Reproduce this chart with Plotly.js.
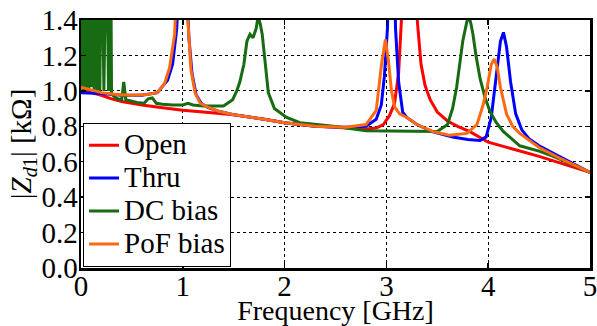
<!DOCTYPE html>
<html>
<head>
<meta charset="utf-8">
<script src="https://cdn.plot.ly/plotly-3.0.1.min.js"></script>
<style>html,body{margin:0;padding:0;background:#fff;}#chart{width:597px;height:326px;}</style>
</head>
<body>
<div id="chart"></div>
<script>
// Open
const openF = [0, 0.1, 0.2, 0.3, 0.4, 0.5, 0.6, 0.8, 1.0, 1.2, 1.5, 1.8, 2.0, 2.3, 2.6, 2.8, 2.9, 2.97, 3.03, 3.08, 3.12, 3.16, 3.2, 3.23, 3.26, 3.3, 3.34, 3.38, 3.43, 3.5, 3.6, 3.7, 3.82, 4.0, 4.25, 4.5, 4.75, 5.0];
const openZ = [1.00, 0.99, 0.975, 0.955, 0.94, 0.93, 0.92, 0.905, 0.89, 0.88, 0.865, 0.84, 0.82, 0.80, 0.79, 0.785, 0.79, 0.81, 0.86, 0.93, 1.1, 1.4, 1.9, 2.3, 1.9, 1.42, 1.15, 1.03, 0.95, 0.88, 0.83, 0.80, 0.77, 0.71, 0.67, 0.63, 0.585, 0.54];
// Thru
const thruF = [0, 0.2, 0.4, 0.6, 0.75, 0.85, 0.9, 0.94, 0.97, 1.0, 1.03, 1.06, 1.09, 1.13, 1.18, 1.25, 1.35, 1.5, 1.8, 2.0, 2.3, 2.6, 2.8, 2.9, 2.95, 2.98, 3.01, 3.05, 3.09, 3.12, 3.16, 3.2, 3.3, 3.45, 3.65, 3.8, 3.92, 3.98, 4.03, 4.08, 4.12, 4.15, 4.18, 4.22, 4.27, 4.33, 4.4, 4.5, 4.7, 5.0];
const thruZ = [0.99, 0.985, 0.975, 0.975, 0.99, 1.06, 1.15, 1.35, 1.7, 2.3, 1.7, 1.3, 1.1, 0.98, 0.93, 0.905, 0.885, 0.865, 0.84, 0.82, 0.80, 0.795, 0.80, 0.84, 0.92, 1.08, 1.35, 2.3, 1.35, 1.05, 0.88, 0.85, 0.81, 0.77, 0.74, 0.725, 0.72, 0.74, 0.85, 1.1, 1.28, 1.33, 1.25, 1.05, 0.87, 0.78, 0.73, 0.69, 0.63, 0.54];
// DC bias
const dcF = [0, 0.01, 0.02, 0.03, 0.045, 0.06, 0.075, 0.09, 0.1, 0.11, 0.13, 0.15, 0.16, 0.17, 0.185, 0.2, 0.225, 0.25, 0.27, 0.29, 0.3, 0.32, 0.36, 0.4, 0.42, 0.44, 0.48, 0.55, 0.62, 0.66, 0.7, 0.74, 0.8, 0.9, 1.0, 1.05, 1.1, 1.2, 1.3, 1.4, 1.49, 1.53, 1.56, 1.6, 1.63, 1.66, 1.69, 1.72, 1.74, 1.76, 1.78, 1.81, 1.84, 1.9, 2.02, 2.15, 2.48, 2.8, 3.2, 3.5, 3.6, 3.65, 3.69, 3.72, 3.75, 3.79, 3.81, 3.83, 3.85, 3.88, 3.92, 3.97, 4.02, 4.08, 4.15, 4.31, 4.5, 4.64, 4.8, 5.0];
const dcZ = [1.02, 2.0, 1.0, 2.0, 1.0, 2.0, 1.0, 2.0, 1.02, 2.0, 1.0, 2.0, 1.0, 2.0, 1.0, 2.0, 1.0, 2.0, 1.0, 2.0, 0.99, 0.97, 0.955, 0.95, 1.05, 0.95, 0.945, 0.935, 0.93, 0.955, 0.96, 0.93, 0.925, 0.92, 0.92, 0.93, 0.92, 0.915, 0.915, 0.915, 0.95, 1.0, 1.05, 1.15, 1.28, 1.32, 1.30, 1.35, 1.42, 1.38, 1.32, 1.15, 0.99, 0.90, 0.85, 0.82, 0.80, 0.775, 0.77, 0.77, 0.81, 0.9, 1.02, 1.15, 1.28, 1.39, 1.42, 1.38, 1.32, 1.2, 1.07, 0.96, 0.88, 0.82, 0.77, 0.69, 0.66, 0.63, 0.59, 0.54];
// PoF bias
const pofF = [0, 0.1, 0.2, 0.35, 0.5, 0.65, 0.75, 0.82, 0.87, 0.92, 0.96, 0.99, 1.02, 1.05, 1.08, 1.12, 1.17, 1.24, 1.35, 1.5, 1.8, 2.0, 2.3, 2.6, 2.8, 2.9, 2.95, 2.99, 3.02, 3.05, 3.08, 3.13, 3.2, 3.3, 3.46, 3.62, 3.79, 3.89, 3.95, 3.99, 4.03, 4.06, 4.09, 4.12, 4.18, 4.24, 4.31, 4.4, 4.5, 4.7, 5.0];
const pofZ = [1.02, 1.005, 0.99, 0.98, 0.975, 0.98, 0.99, 1.04, 1.13, 1.32, 1.7, 2.3, 1.8, 1.4, 1.12, 0.99, 0.93, 0.91, 0.885, 0.865, 0.84, 0.82, 0.80, 0.795, 0.81, 0.89, 1.14, 1.29, 1.17, 1.0, 0.91, 0.87, 0.85, 0.81, 0.77, 0.75, 0.76, 0.81, 0.92, 1.02, 1.15, 1.18, 1.13, 1.02, 0.87, 0.80, 0.76, 0.72, 0.68, 0.62, 0.54];

const seriesNames = ['Open', 'Thru', 'DC bias', 'PoF bias'];
const seriesColors = ['#ff0000', '#0000ff', '#176b12', '#ff6a10'];
const xs = [openF, thruF, dcF, pofF];
const ys = [openZ, thruZ, dcZ, pofZ];

const xTicks = [0, 1, 2, 3, 4, 5];
const yTicks = [0, 0.2, 0.4, 0.6, 0.8, 1.0, 1.2, 1.4];

const FONT = 'Liberation Serif';
const FS = 29;

const traces = seriesNames.map((n, i) => ({
  x: xs[i], y: ys[i], type: 'scatter', mode: 'lines',
  name: '<span style="font-size:' + FS + 'px">' + n + '</span>',
  line: {color: seriesColors[i], width: 3}
}));

function axisCommon() {
  return {
    showline: true, linecolor: '#000', linewidth: 2.5, mirror: 'ticks',
    ticks: 'inside', ticklen: 5, tickwidth: 1.5, tickcolor: '#000',
    showgrid: true, gridcolor: '#000', griddash: 'dot', gridwidth: 1,
    zeroline: false, tickfont: {family: FONT, size: FS, color: '#000'},
    ticklabeloverflow: 'allow'
  };
}

const layout = {
  width: 597, height: 326,
  font: {family: FONT, size: FS, color: '#000'},
  margin: {l: 81, r: 7, t: 20, b: 58},
  paper_bgcolor: '#fff', plot_bgcolor: '#fff',
  showlegend: true,
  xaxis: Object.assign(axisCommon(), {
    range: [0, 5], tickvals: xTicks, ticktext: xTicks.map(String),
    ticklabelstandoff: -9,
    title: {text: 'Frequency [GHz]', font: {family: FONT, size: 28, color: '#000'}, standoff: 13}
  }),
  yaxis: Object.assign(axisCommon(), {
    range: [0, 1.4], tickvals: yTicks, ticktext: yTicks.map(v => v.toFixed(1)),
    ticklabelstandoff: -5,
    title: {text: '|<i>Z</i><sub><i>d</i>1</sub>| [kΩ]', font: {family: FONT, size: FS, color: '#000'}, standoff: 2}
  }),
  legend: {
    x: 0.004, y: 0.005, xanchor: 'left', yanchor: 'bottom',
    bgcolor: '#fff', bordercolor: '#000', borderwidth: 1,
    font: {family: FONT, size: 23, color: '#000'},
    itemwidth: 30, tracegroupgap: 0
  }
};

Plotly.newPlot('chart', traces, layout, {staticPlot: true, displayModeBar: false});
</script>
</body>
</html>
